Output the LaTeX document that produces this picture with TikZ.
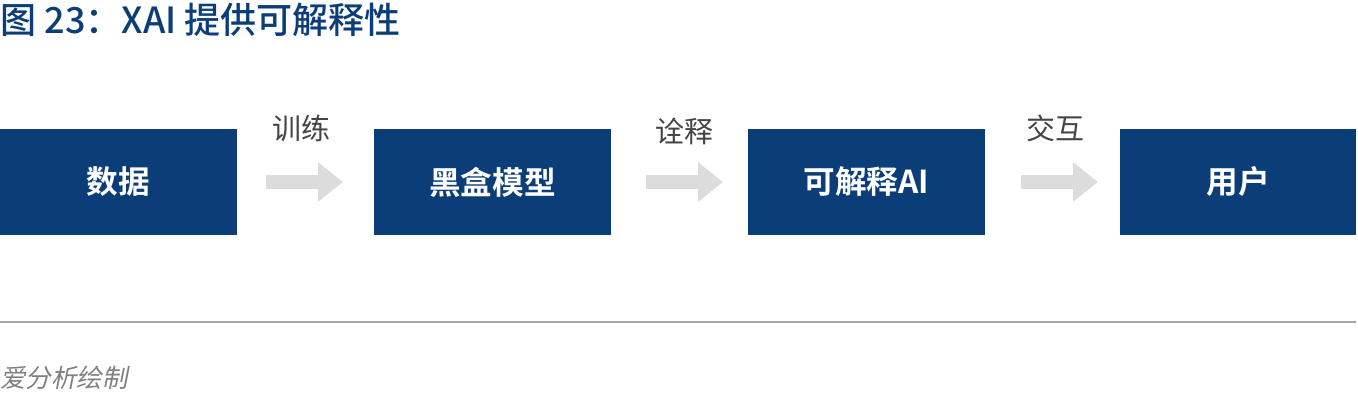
\documentclass[tikz,border=0pt]{standalone}
\usepackage{fontspec}
\setmainfont{Noto Sans CJK SC}
\newfontfamily\cjkbold{Noto Sans CJK SC Bold}
\newfontfamily\cjkmedium{Noto Sans CJK SC Medium}
\usetikzlibrary{positioning}
\usetikzlibrary{arrows.meta}
\definecolor{boxblue}{HTML}{0B3E78}
\definecolor{arrowgray}{HTML}{DCDCDC}
\definecolor{labgray}{HTML}{444444}
\begin{document}
\begin{tikzpicture}[
    x=0.02cm, y=-0.02cm,
    font=\fontsize{16.5}{19}\selectfont
]
\tikzset{
    stepbox/.style = {rectangle, fill=boxblue, text=white, minimum width=4.74cm, minimum height=2.12cm, inner sep=0pt, font=\cjkbold\fontsize{18}{21}\selectfont},
    flow/.style = {draw=arrowgray, line width=0.28cm, -{Triangle[length=0.5cm,width=0.76cm]}},
    steplabel/.style = {text=labgray, inner sep=0pt}
}
\useasboundingbox (0,0) rectangle (1358,402);
\node[anchor=west, text=boxblue, font=\cjkmedium\fontsize{20.5}{23}\selectfont, inner sep=0pt] (title) at (0,20) {图 23：XAI 提供可解释性};
\node[stepbox] at (118.5,182) (data) {数据};
\node[stepbox] at (492.5,182) (model) {黑盒模型};
\node[stepbox] at (866.5,182) (xai) {可解释AI};
\node[stepbox] at (1238,182) (user) {用户};
\coordinate (a1s) at (266,182); \coordinate (a1e) at (343,182);
\coordinate (a2s) at (646,182); \coordinate (a2e) at (723,182);
\coordinate (a3s) at (1021,182); \coordinate (a3e) at (1098,182);
\draw[flow] (a1s) -- (a1e);
\draw[flow] (a2s) -- (a2e);
\draw[flow] (a3s) -- (a3e);
\node[steplabel] at (301,128) (l1) {训练};
\node[steplabel] at (684,131) (l2) {诠释};
\node[steplabel] at (1055,128) (l3) {交互};
\draw[gray!70, line width=0.6pt] (0,322) -- (1356,322);
\node[anchor=west, text=gray, inner sep=0pt, font=\fontsize{14.5}{17}\selectfont] (src) at (0,378) {\addfontfeature{FakeSlant=0.2}爱分析绘制};
\end{tikzpicture}
\end{document}
